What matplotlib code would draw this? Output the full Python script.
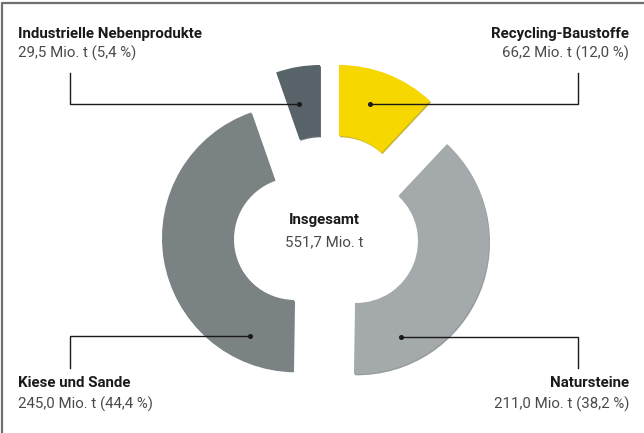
import matplotlib
matplotlib.use("Agg")
import matplotlib.pyplot as plt
from matplotlib.patches import Wedge, Circle

# ---------------- data ----------------
categories = ["Recycling-Baustoffe", "Natursteine", "Kiese und Sande", "Industrielle Nebenprodukte"]
values_mio_t = [66.2, 211.0, 245.0, 29.5]
shares_pct = [12.0, 38.2, 44.4, 5.4]
total_mio_t = 551.7
value_labels = ["66,2 Mio. t (12,0 %)", "211,0 Mio. t (38,2 %)",
                "245,0 Mio. t (44,4 %)", "29,5 Mio. t (5,4 %)"]
center_title = "Insgesamt"
center_value = "551,7 Mio. t"

# ---------------- style / layout ----------------
colors = ["#F6D700", "#A4A9AB", "#7A8284", "#59646A"]
edge_colors = ["#B9A200", "#7E8486", "#5C6466", "#3F484C"]
W, H = 644, 433
BASE = (326.0, 240.0)
R_OUT, R_IN = 133.0, 62.0
offsets = [(13, -42), (30, 1), (-31, -2), (-6, -42)]
dot_frac = [0.42, 0.81, 0.15, 0.33]        # position of leader dot within segment (angle fraction)
dot_r = [99, 106, 108, 96]
label_side = ["right", "right", "left", "left"]
label_row = ["top", "bottom", "bottom", "top"]
X_LEFT, X_RIGHT = 18, 629
LINE_X_LEFT, LINE_X_RIGHT = 70, 578
BASE_Y = {"top": (37.7, 57.5), "bottom": (386.7, 408.3)}
LINE_END_Y = {"top": 73, "bottom": 368}

FONT = ["Roboto", "DejaVu Sans"]
plt.rcParams["font.family"] = FONT

fig = plt.figure(figsize=(W / 100, H / 100), dpi=100)
ax = fig.add_axes([0, 0, 1, 1])
ax.set_xlim(0, W)
ax.set_ylim(H, 0)
ax.axis("off")

# frame (left + top)
ax.plot([2.5, 2.5, W], [H, 2.5, 2.5], color="#6E7173", lw=1.6, solid_capstyle="butt")

import math
fracs = [v / sum(values_mio_t) for v in values_mio_t]
start = 0.0
for i, f in enumerate(fracs):
    a = start * 360.0
    b = (start + f) * 360.0
    start += f
    cx = BASE[0] + offsets[i][0]
    cy = BASE[1] + offsets[i][1]
    # subtle shadow
    sh = Wedge((cx + 1.0, cy + 1.3), R_OUT, a - 90, b - 90, width=R_OUT - R_IN,
               facecolor=edge_colors[i], edgecolor="none", alpha=0.8, zorder=2)
    ax.add_patch(sh)
    w = Wedge((cx, cy), R_OUT, a - 90, b - 90, width=R_OUT - R_IN,
              facecolor=colors[i], edgecolor="none", zorder=3)
    ax.add_patch(w)

    # leader dot
    phi = math.radians(a + dot_frac[i] * (b - a))
    dx = cx + dot_r[i] * math.sin(phi)
    dy = cy - dot_r[i] * math.cos(phi)
    lx = LINE_X_RIGHT if label_side[i] == "right" else LINE_X_LEFT
    ly = LINE_END_Y[label_row[i]]
    ax.plot([dx, lx, lx], [dy, dy, ly], color="#1A1A1A", lw=1.0, zorder=5,
            solid_joinstyle="miter")
    ax.plot([dx], [dy], "o", color="#1A1A1A", ms=2.6, zorder=6)

    # labels
    tx = X_RIGHT if label_side[i] == "right" else X_LEFT
    ha = "right" if label_side[i] == "right" else "left"
    y1, y2 = BASE_Y[label_row[i]]
    ax.text(tx, y1, categories[i], ha=ha, va="baseline", fontsize=10.8,
            fontweight="bold", color="#1A1A1A")
    ax.text(tx, y2, value_labels[i], ha=ha, va="baseline", fontsize=10.8,
            color="#4A4A4A")

ax.text(BASE[0] - 2, 224, center_title, ha="center", va="baseline", fontsize=10.8,
        fontweight="bold", color="#1A1A1A", zorder=7)
ax.text(BASE[0] - 2, 246, center_value, ha="center", va="baseline", fontsize=10.8,
        color="#4A4A4A", zorder=7)

fig.savefig("out.png", dpi=100)
